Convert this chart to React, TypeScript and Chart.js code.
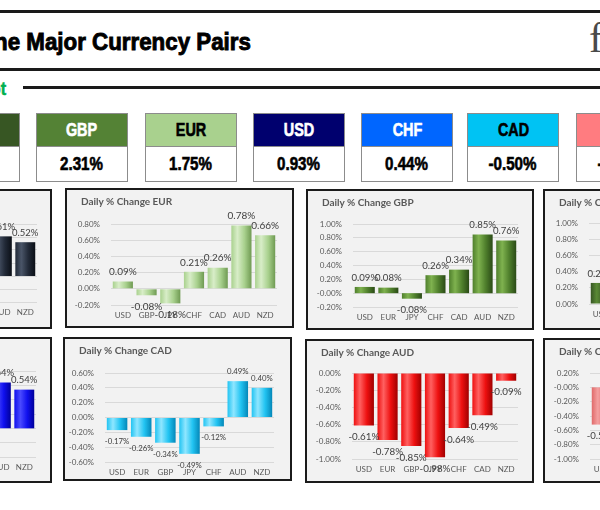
import React, { useEffect, useRef } from 'react';
import { Chart, registerables } from 'chart.js';
Chart.register(...registerables);

// ---------- DATA ----------
const tileNames = ['JPY', 'GBP', 'EUR', 'USD', 'CHF', 'CAD', 'NZD'];
const tileValues = ['2.95%', '2.31%', '1.75%', '0.93%', '0.44%', '-0.50%', '-1.63%'];

const usdCats = ['EUR', 'GBP', 'JPY', 'CHF', 'CAD', 'AUD', 'NZD'];
const usdVals = [-0.09, -0.09, -0.26, -0.05, 0.17, 0.61, 0.52];
const eurCats = ['USD', 'GBP', 'JPY', 'CHF', 'CAD', 'AUD', 'NZD'];
const eurVals = [0.09, -0.08, -0.18, 0.21, 0.26, 0.78, 0.66];
const gbpCats = ['USD', 'EUR', 'JPY', 'CHF', 'CAD', 'AUD', 'NZD'];
const gbpVals = [0.09, 0.08, -0.08, 0.26, 0.34, 0.85, 0.76];
const jpyCats = ['USD', 'EUR', 'GBP', 'CHF', 'CAD', 'AUD', 'NZD'];
const jpyVals = [0.26, 0.18, 0.08, 0.3, 0.49, 0.98, 0.8];
const chfCats = ['USD', 'EUR', 'GBP', 'JPY', 'CAD', 'AUD', 'NZD'];
const chfVals = [0.05, -0.21, -0.26, -0.3, 0.12, 0.64, 0.54];
const cadCats = ['USD', 'EUR', 'GBP', 'JPY', 'CHF', 'AUD', 'NZD'];
const cadVals = [-0.17, -0.26, -0.34, -0.49, -0.12, 0.49, 0.4];
const audCats = ['USD', 'EUR', 'GBP', 'JPY', 'CHF', 'CAD', 'NZD'];
const audVals = [-0.61, -0.78, -0.85, -0.98, -0.64, -0.49, -0.09];
const nzdCats = ['USD', 'EUR', 'GBP', 'JPY', 'CHF', 'CAD', 'AUD'];
const nzdVals = [-0.52, -0.66, -0.76, -0.8, -0.54, -0.4, 0.09];

// ---------- STYLE / LAYOUT ----------
const tileColors = ['#375623', '#548235', '#a9d18e', '#00006e', '#0066ff', '#00c3f3', '#ff7c80'];
const tileTextColors = ['#ffffff', '#ffffff', '#000000', '#ffffff', '#ffffff', '#000000', '#000000'];
const tileLefts = [-72, 36, 145, 253, 361, 467, 576];
const TILE_W = 92;

type PanelCfg = {
  cur: string;
  cats: string[];
  vals: number[];
  min: number;
  max: number;
  colors: [string, string, string];
  box: [number, number, number, number];
  plot: [number, number, number, number];
  labelSize: number;
};

const panels: PanelCfg[] = [
  { cur: 'USD', cats: usdCats, vals: usdVals, min: -0.4, max: 0.8, colors: ['#4a5568', '#222a38', '#0b0f16'], box: [-177, 189, 229, 140], plot: [-127, 37, 224, 302], labelSize: 9.5 },
  { cur: 'EUR', cats: eurCats, vals: eurVals, min: -0.2, max: 0.8, colors: ['#d8edc8', '#a9d18e', '#6f9a52'], box: [65, 188, 229, 140], plot: [111, 277, 224, 305], labelSize: 10 },
  { cur: 'GBP', cats: gbpCats, vals: gbpVals, min: -0.2, max: 1.0, colors: ['#7fb24f', '#4f7f2c', '#2a4a16'], box: [306, 189, 228, 141], plot: [353, 518, 224, 307], labelSize: 9.6 },
  { cur: 'JPY', cats: jpyCats, vals: jpyVals, min: 0, max: 1.0, colors: ['#5a8a35', '#375623', '#1c3010'], box: [543, 189, 229, 141], plot: [589, 754, 223, 304], labelSize: 9.6 },
  { cur: 'CHF', cats: chfCats, vals: chfVals, min: -0.4, max: 0.8, colors: ['#4a4aff', '#1010ee', '#00009a'], box: [-177, 337, 229, 146], plot: [-128, 36, 371, 457], labelSize: 9.5 },
  { cur: 'CAD', cats: cadCats, vals: cadVals, min: -0.6, max: 0.6, colors: ['#8fe6ff', '#22c4f2', '#0487b8'], box: [63, 337, 229, 144], plot: [105, 274, 373, 462], labelSize: 7.8 },
  { cur: 'AUD', cats: audCats, vals: audVals, min: -1.0, max: 0, colors: ['#ff6060', '#ee1010', '#a00000'], box: [305, 339, 229, 144], plot: [352, 518, 373, 459], labelSize: 9.8 },
  { cur: 'NZD', cats: nzdCats, vals: nzdVals, min: -1.0, max: 0.2, colors: ['#f4a0a0', '#e06a6a', '#b04040'], box: [543, 338, 229, 145], plot: [590, 755, 373, 459], labelSize: 9.6 },
];

const FONT = 'Lato, "Open Sans", sans-serif';

const barLabelPlugin = {
  id: 'barLabels',
  afterDatasetsDraw(chart: any, _args: any, opts: any) {
    const ctx = chart.ctx;
    const meta = chart.getDatasetMeta(0);
    const vals = chart.data.datasets[0].data as number[];
    ctx.save();
    ctx.font = `${opts.size || 10}px ${FONT}`;
    ctx.fillStyle = '#404040';
    ctx.textAlign = 'center';
    ctx.textBaseline = 'middle';
    meta.data.forEach((el: any, i: number) => {
      const v = vals[i];
      const y = v >= 0 ? el.y - 9.5 : el.y + 11.5;
      ctx.fillText(v.toFixed(2) + '%', el.x, y);
    });
    ctx.restore();
  },
};

function gradient(colors: [string, string, string]) {
  return (c: any) => {
    const chart = c.chart;
    const xs = chart.scales && chart.scales.x;
    if (!xs || !chart.chartArea || c.dataIndex === undefined) return colors[1];
    const n = chart.data.labels.length;
    const cw = (xs.right - xs.left) / n;
    const cx = xs.getPixelForValue(c.dataIndex);
    const w = cw * 0.85;
    const g = chart.ctx.createLinearGradient(cx - w / 2, 0, cx + w / 2, 0);
    g.addColorStop(0, colors[1]);
    g.addColorStop(0.3, colors[0]);
    g.addColorStop(0.65, colors[1]);
    g.addColorStop(1, colors[2]);
    return g;
  };
}

function Panel({ p }: { p: PanelCfg }) {
  const ref = useRef<HTMLCanvasElement>(null);
  const [x, y, w, h] = p.box;
  const iw = w - 4;
  const ih = h - 4;
  useEffect(() => {
    const aL = p.plot[0] - (x + 2);
    const aR = p.plot[1] - (x + 2);
    const aT = p.plot[2] - (y + 2);
    const aB = p.plot[3] - (y + 2);
    const xh = 16;
    const chart = new Chart(ref.current as HTMLCanvasElement, {
      type: 'bar',
      data: {
        labels: p.cats,
        datasets: [
          {
            data: p.vals,
            backgroundColor: gradient(p.colors) as any,
            borderWidth: 0,
            categoryPercentage: 1,
            barPercentage: 0.85,
          },
        ],
      },
      options: {
        animation: false,
        responsive: false,
        maintainAspectRatio: false,
        devicePixelRatio: 1,
        layout: { padding: { left: 0, right: iw - aR, top: aT, bottom: Math.max(ih - aB - xh, 0) } },
        plugins: {
          legend: { display: false },
          tooltip: { enabled: false },
          title: { display: false },
          barLabels: { size: p.labelSize },
        } as any,
        scales: {
          x: {
            grid: { display: false, drawTicks: false },
            border: { display: false },
            ticks: { color: '#595959', font: { family: FONT, size: 8 }, padding: 6, maxRotation: 0, autoSkip: false },
            afterFit: (s: any) => { s.height = xh; },
          },
          y: {
            min: p.min,
            max: p.max,
            grid: { color: '#d9d9d9', drawTicks: false },
            border: { display: false },
            ticks: {
              stepSize: 0.2,
              color: '#595959',
              font: { family: FONT, size: 8 },
              padding: 11,
              callback: (v: any) => Number(v).toFixed(2) + '%',
            },
            afterFit: (s: any) => { s.width = aL; },
          },
        },
      },
      plugins: [barLabelPlugin as any],
    });
    return () => chart.destroy();
  }, []);
  return (
    <div
      style={{
        position: 'absolute', left: x, top: y, width: w, height: h, boxSizing: 'border-box',
        border: '2px solid #1b1b1b', background: '#f2f2f2',
      }}
    >
      <canvas ref={ref} width={iw} height={ih} style={{ position: 'absolute', left: 0, top: 0, width: iw, height: ih }} />
      <div
        style={{
          position: 'absolute', left: 14, top: 5, font: `bold 10px ${FONT}`, lineHeight: '12px',
          color: '#595959', whiteSpace: 'nowrap',
        }}
      >
        Daily % Change {p.cur}
      </div>
    </div>
  );
}

const heavy: React.CSSProperties = {
  fontFamily: '"Liberation Sans", Arial, sans-serif',
  fontWeight: 700,
  WebkitTextStroke: '0.6px currentColor',
  whiteSpace: 'nowrap',
};

function Tile({ i }: { i: number }) {
  const left = tileLefts[i];
  return (
    <>
      <div
        style={{
          position: 'absolute', left, top: 113, width: TILE_W, height: 34, boxSizing: 'border-box',
          border: '1px solid #8c8c8c', background: tileColors[i], display: 'flex',
          alignItems: 'center', justifyContent: 'center',
        }}
      >
        <span style={{ ...heavy, fontSize: 18, color: tileTextColors[i], transform: 'scaleX(0.8)', display: 'inline-block' }}>
          {tileNames[i]}
        </span>
      </div>
      <div
        style={{
          position: 'absolute', left, top: 146, width: TILE_W, height: 36, boxSizing: 'border-box',
          border: '1px solid #8c8c8c', background: '#ffffff', display: 'flex',
          alignItems: 'center', justifyContent: 'center',
        }}
      >
        <span style={{ ...heavy, fontSize: 18, color: '#000', transform: 'scaleX(0.84)', display: 'inline-block' }}>
          {tileValues[i]}
        </span>
      </div>
    </>
  );
}

export default function App() {
  return (
    <div
      style={{
        position: 'fixed', left: 0, top: 0, width: 600, height: 510, overflow: 'hidden',
        background: '#ffffff',
      }}
    >
      <div style={{ position: 'absolute', left: 0, top: 10, width: 600, height: 3, background: '#1a1a1a' }} />
      <div
        style={{
          ...heavy, WebkitTextStroke: '0.9px currentColor', position: 'absolute', right: 349, top: 30,
          fontSize: 24, lineHeight: '24px', color: '#000', transform: 'scaleX(0.93)', transformOrigin: 'right center',
        }}
      >
        Daily Performance of the Major Currency Pairs
      </div>
      <div
        style={{
          position: 'absolute', left: 589, top: 17, fontFamily: '"Liberation Serif", serif', fontSize: 42,
          lineHeight: '42px', color: '#4a4a4a', whiteSpace: 'nowrap',
        }}
      >
        forexlive
      </div>
      <div style={{ position: 'absolute', left: 0, top: 68, width: 600, height: 3, background: '#1a1a1a' }} />
      <div
        style={{
          ...heavy, position: 'absolute', right: 594, top: 79, fontSize: 19, lineHeight: '19px',
          color: '#00b050', transform: 'scaleX(0.85)', transformOrigin: 'right center',
        }}
      >
        Market Snapshot
      </div>
      <div style={{ position: 'absolute', left: 23, top: 86, width: 577, height: 2.5, background: '#1a1a1a' }} />
      {tileNames.map((_, i) => (
        <Tile key={i} i={i} />
      ))}
      {panels.map((p) => (
        <Panel key={p.cur} p={p} />
      ))}
    </div>
  );
}
